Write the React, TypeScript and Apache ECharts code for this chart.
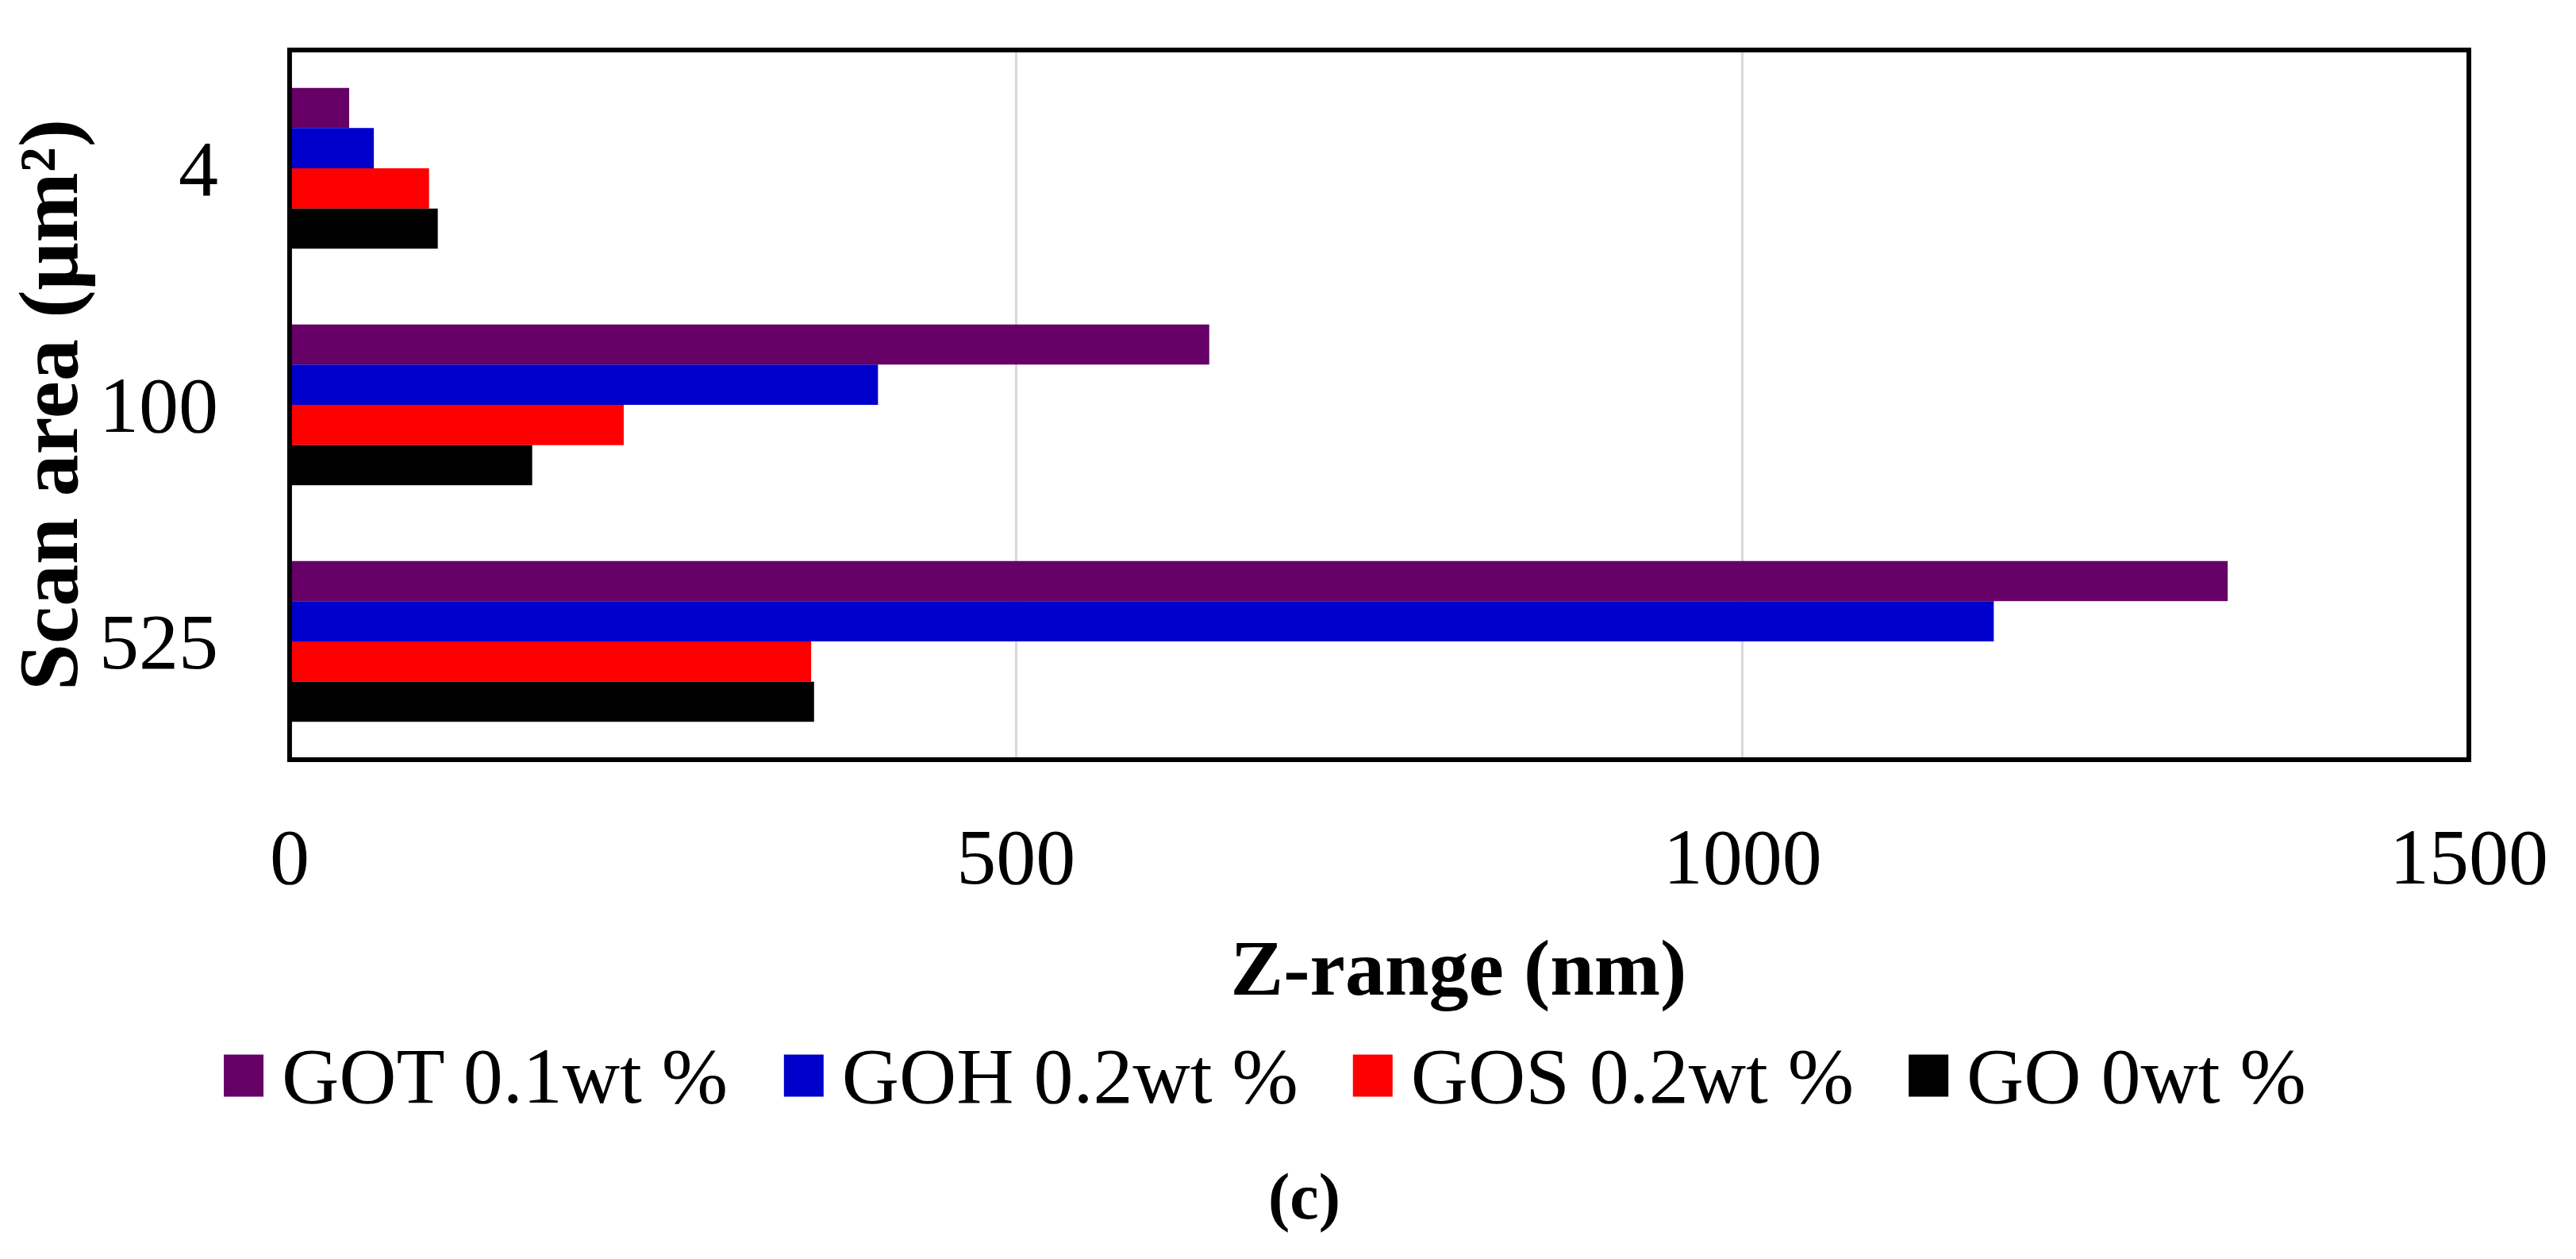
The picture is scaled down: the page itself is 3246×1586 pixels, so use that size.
import React, { useEffect, useRef } from "react";
import * as echarts from "echarts";

const categories = ["4", "100", "525"];
const seriesNames = ["GOT 0.1wt %", "GOH 0.2wt %", "GOS 0.2wt %", "GO 0wt %"];
const gotValues = [41, 633, 1334];
const gohValues = [58, 405, 1173];
const gosValues = [96, 230, 359];
const goValues = [102, 167, 361];
const colors = ["#660066", "#0000CC", "#FF0000", "#000000"];
const xTicks = [0, 500, 1000, 1500];

const FONT = "'Liberation Serif', 'Times New Roman', serif";

export default function App() {
  const ref = useRef<HTMLDivElement>(null);
  useEffect(() => {
    if (!ref.current) return;
    const chart = echarts.init(ref.current, null, { renderer: "svg" });
    const values = [gotValues, gohValues, gosValues, goValues];
    chart.setOption({
      animation: false,
      backgroundColor: "#ffffff",
      grid: {
        left: 361,
        right: 135,
        top: 63,
        bottom: 629,
        show: true,
        borderColor: "#000000",
        borderWidth: 6,
        z: 10,
      },
      xAxis: {
        type: "value",
        min: xTicks[0],
        max: xTicks[xTicks.length - 1],
        interval: 500,
        axisLine: { show: false },
        axisTick: { show: false },
        axisLabel: {
          margin: 72,
          fontFamily: FONT,
          fontSize: 100,
          color: "#000000",
          formatter: (v: number) => String(v),
        },
        splitLine: {
          show: true,
          showMinLine: false,
          showMaxLine: false,
          lineStyle: { color: "#d9d9d9", width: 3 },
        },
        name: "Z-range (nm)",
        nameLocation: "middle",
        nameGap: 212,
        nameTextStyle: {
          fontFamily: FONT,
          fontWeight: "bold",
          fontSize: 100,
          color: "#000000",
          padding: [0, 0, 0, 200],
        },
      },
      yAxis: {
        type: "category",
        data: categories,
        inverse: true,
        axisLine: { show: false },
        axisTick: { show: false },
        axisLabel: {
          margin: 90,
          fontFamily: FONT,
          fontSize: 100,
          color: "#000000",
        },
        name: "Scan area (μm²)",
        nameLocation: "middle",
        nameGap: 230,
        nameTextStyle: {
          fontFamily: FONT,
          fontWeight: "bold",
          fontSize: 106,
          color: "#000000",
        },
      },
      legend: {
        left: 277,
        top: 1300,
        orient: "horizontal",
        itemWidth: 50,
        itemHeight: 53,
        itemGap: 69,
        icon: "rect",
        textStyle: {
          fontFamily: FONT,
          fontSize: 100,
          color: "#000000",
          padding: [0, 0, 0, 18],
        },
        data: seriesNames,
      },
      graphic: [
        {
          type: "text",
          left: 1598,
          top: 1466,
          style: {
            text: "(c)",
            font: `bold 82px ${FONT}`,
            fill: "#000000",
          },
        },
      ],
      series: seriesNames.map((name, i) => ({
        name,
        type: "bar",
        data: values[i],
        barGap: "0%",
        barCategoryGap: "32%",
        itemStyle: { color: colors[i] },
      })),
    });
    return () => chart.dispose();
  }, []);
  return (
    <div
      ref={ref}
      style={{ position: "absolute", left: 0, top: 0, width: 3246, height: 1586 }}
    />
  );
}
